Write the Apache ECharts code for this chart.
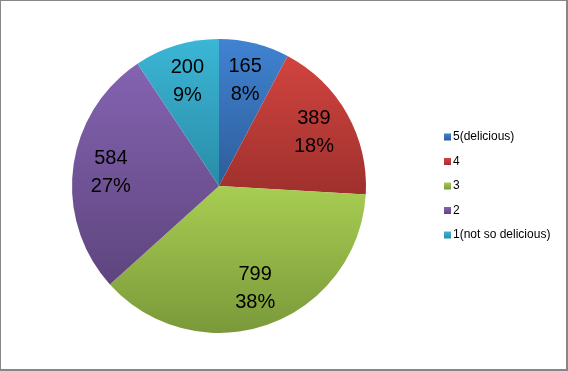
<!DOCTYPE html>
<html>
<head>
<meta charset="utf-8">
<script src="https://cdn.jsdelivr.net/npm/echarts@6/dist/echarts.min.js"></script>
<style>
html,body{margin:0;padding:0;background:#fff;}
#c{width:568px;height:371px;box-sizing:border-box;border-style:solid;border-color:#878787;border-width:1px 2px 2px 1px;}
</style>
</head>
<body>
<div id="c"></div>
<script>
var categories = ['5(delicious)', '4', '3', '2', '1(not so delicious)'];
var values = [165, 389, 799, 584, 200];
var percentLabels = ['8%', '18%', '38%', '27%', '9%'];

var topColors = ['#4083D2', '#D1443F', '#A8CD52', '#8463B1', '#3BB6D6'];
var bottomColors = ['#2E5D99', '#9F302D', '#7A993A', '#5E457E', '#2A8CA7'];

function grad(i){
  return new echarts.graphic.LinearGradient(0,0,0,1,[
    {offset:0,color:topColors[i]},{offset:1,color:bottomColors[i]}
  ]);
}

var chart = echarts.init(document.getElementById('c'), null, {renderer:'canvas'});
var center = [218, 185];
var fillData = categories.map(function(n,i){return {name:n,value:values[i],itemStyle:{color:grad(i)}};});
var labelData = categories.map(function(n,i){return {name:n,value:values[i]};});

chart.setOption({
  animation:false,
  legend:{
    orient:'vertical',
    left:438,
    top:125,
    itemWidth:7,
    itemHeight:7,
    itemGap:12.5,
    icon:'rect',
    data:categories,
    textStyle:{fontFamily:'Liberation Sans, Arial, sans-serif',fontSize:12,color:'#000',padding:[0,0,0,-3]}
  },
  series:[
    {
      type:'pie',
      center:center,
      radius:[0,147],
      startAngle:90,
      clockwise:true,
      silent:true,
      data:fillData,
      label:{show:false},
      labelLine:{show:false},
      itemStyle:{borderWidth:0}
    },
    {
      type:'pie',
      center:center,
      radius:[64,148],
      startAngle:90,
      clockwise:true,
      silent:true,
      legendHoverLink:false,
      data:labelData,
      itemStyle:{color:'rgba(0,0,0,0)',borderWidth:0},
      label:{
        show:true,
        position:'inside',
        color:'#000',
        fontFamily:'Liberation Sans, Arial, sans-serif',
        fontSize:20,
        lineHeight:28,
        formatter:function(p){return p.value + '\n' + percentLabels[p.dataIndex];}
      },
      labelLine:{show:false}
    }
  ]
});
</script>
</body>
</html>
